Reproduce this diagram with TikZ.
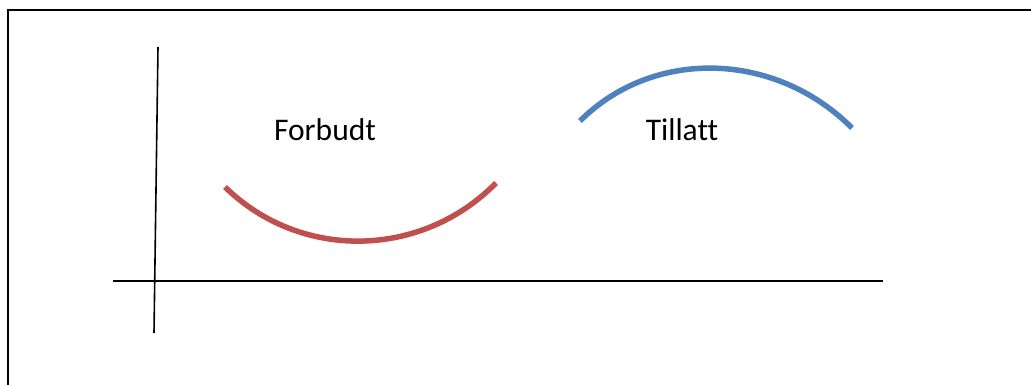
\documentclass[tikz,border=0pt]{standalone}
\usepackage{fontspec}
\setmainfont[Ligatures={NoCommon}]{Carlito}
\definecolor{arcred}{HTML}{C0504D}
\definecolor{arcblue}{HTML}{4F81BD}
\begin{document}
\begin{tikzpicture}[x=1pt,y=-1pt,
  frame/.style={draw=black,line width=2pt},
  axis/.style={draw=black,line width=1.6pt},
  curve/.style={line width=5.5pt},
  lab/.style={font=\fontsize{31.5}{36}\selectfont,anchor=base,inner sep=0pt}]
\useasboundingbox[fill=white] (0,0) rectangle (1031,385);
\draw[frame] (7.5,400) -- (7.5,10) -- (1045,10);
% axes
\coordinate (ytop) at (158,47);
\coordinate (ybot) at (154,333);
\coordinate (xl) at (113,281);
\coordinate (xr) at (883,281);
\draw[axis] (ytop) -- (ybot);
\draw[axis] (xl) -- (xr);
% red arc
\coordinate (r1) at (225,187);
\coordinate (r2) at (496,183);
\draw[curve,arcred] (r1) .. controls (300.8,261.1) and (421.8,258.5) .. (r2);
% blue arc
\coordinate (b1) at (580,121);
\coordinate (b2) at (852,128);
\draw[curve,arcblue] (b1) .. controls (653,48) and (775,50.8) .. (b2);
% labels
\node[lab] (forbudt) at (325,141) {Forbudt};
\node[lab] (tillatt) at (682,141) {Tillatt};
\end{tikzpicture}
\end{document}
